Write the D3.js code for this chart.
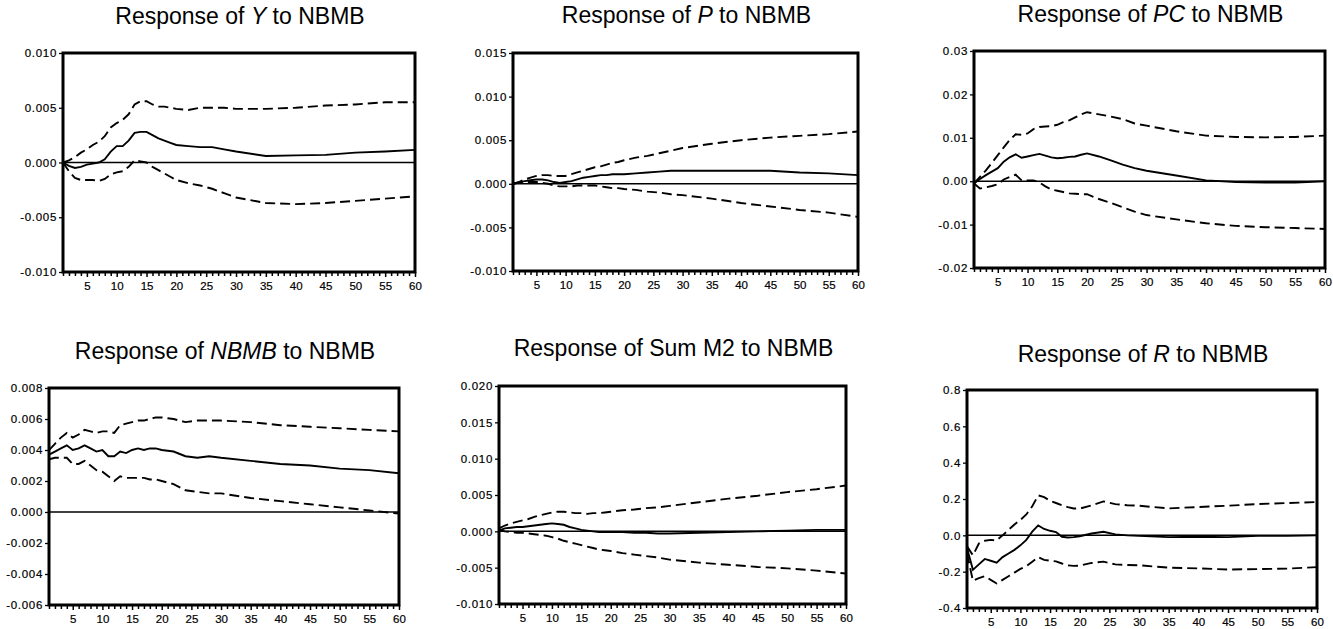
<!DOCTYPE html>
<html>
<head>
<meta charset="utf-8">
<title>Impulse responses to NBMB</title>
<script src="https://d3js.org/d3.v7.min.js"></script>
<style>
body { margin: 0; background: #fff; }
text { font-family: "Liberation Sans", Arial, Helvetica, sans-serif; fill: #000; }
</style>
</head>
<body>
<div id="chart"></div>
<script>

var periods = [1,2,3,4,5,6,7,8,9,10,11,12,13,14,15,16,17,18,19,20,22,24,26,28,30,35,40,45,50,55,60];

// Response of Y
var yResp = [0,-0.0003,-0.0005,-0.0004,-0.0002,-0.0001,0,0.0003,0.001,0.0015,0.0015,0.002,0.0027,0.0028,0.0028,0.0025,0.0022,0.002,0.0018,0.0016,0.0015,0.0014,0.0014,0.0012,0.001,0.0006,0.00065,0.0007,0.0009,0.001,0.00115];
var yUp   = [0,0.0002,0.0005,0.0009,0.0012,0.0016,0.0019,0.0024,0.0032,0.0036,0.0039,0.0044,0.0053,0.0056,0.0056,0.0053,0.0051,0.0051,0.005,0.0049,0.0048,0.005,0.005,0.005,0.0049,0.0049,0.005,0.0052,0.0053,0.0055,0.0055];
var yLow  = [0,-0.0008,-0.0014,-0.0016,-0.0016,-0.0016,-0.0017,-0.0015,-0.0011,-0.0009,-0.0008,-0.0004,0.0002,0.0001,0,-0.0004,-0.0007,-0.001,-0.0013,-0.0016,-0.0019,-0.0021,-0.0024,-0.0028,-0.0032,-0.0037,-0.0038,-0.0037,-0.0035,-0.0033,-0.0031];

// Response of P
var pResp = [0,0.0002,0.0003,0.0004,0.0005,0.0005,0.0004,0.0002,0.0001,0.0002,0.0003,0.0005,0.0007,0.0008,0.0009,0.001,0.001,0.0011,0.0011,0.0011,0.0012,0.0013,0.0014,0.0015,0.0015,0.0015,0.0015,0.0015,0.0013,0.0012,0.001];
var pUp   = [0,0.0002,0.0005,0.0007,0.0009,0.001,0.001,0.0009,0.0009,0.0009,0.0011,0.0013,0.0015,0.0017,0.0019,0.002,0.0022,0.0024,0.0025,0.0027,0.003,0.0032,0.0035,0.0038,0.0041,0.0046,0.005,0.0053,0.0055,0.0057,0.006];
var pLow  = [0,0.0001,0.0002,0.0002,0.0002,0.0001,0,-0.0002,-0.0003,-0.0003,-0.0003,-0.0002,-0.0002,-0.0002,-0.0002,-0.0003,-0.0004,-0.0005,-0.0005,-0.0006,-0.0007,-0.0009,-0.001,-0.0012,-0.0013,-0.0017,-0.0022,-0.0026,-0.003,-0.0033,-0.0038];

// Response of PC
var pcResp = [-0.0005,0.0005,0.0014,0.0022,0.003,0.0045,0.0055,0.0062,0.0054,0.0057,0.006,0.0063,0.0059,0.0055,0.0053,0.0054,0.0056,0.0057,0.0061,0.0064,0.0057,0.0048,0.0038,0.003,0.0024,0.0013,0.0002,-0.0002,-0.0003,-0.0003,0];
var pcUp   = [-0.0005,0.001,0.0025,0.0042,0.006,0.0078,0.0095,0.0108,0.0107,0.011,0.012,0.0125,0.0126,0.0127,0.013,0.0136,0.014,0.0147,0.0154,0.0159,0.0154,0.0149,0.0143,0.0133,0.0128,0.0115,0.0105,0.0102,0.0101,0.0102,0.0105];
var pcLow  = [-0.0005,-0.0017,-0.0014,-0.0011,-0.0007,0.0004,0.001,0.0015,0.0002,0.0002,0.0002,-0.0003,-0.0012,-0.0019,-0.0022,-0.0025,-0.0028,-0.0029,-0.003,-0.003,-0.0041,-0.005,-0.006,-0.007,-0.0078,-0.0088,-0.0097,-0.0103,-0.0106,-0.0108,-0.011];

// Response of NBMB
var nbResp = [0.0037,0.0039,0.0041,0.0043,0.004,0.0041,0.0043,0.0041,0.0039,0.004,0.0036,0.0036,0.0039,0.0038,0.004,0.0041,0.004,0.0041,0.0041,0.004,0.0039,0.0036,0.0035,0.0036,0.0035,0.0033,0.0031,0.003,0.0028,0.0027,0.0025];
var nbUp   = [0.004,0.0044,0.0048,0.0051,0.0048,0.005,0.0053,0.0052,0.0051,0.0052,0.0052,0.0051,0.0056,0.0057,0.0058,0.0059,0.0059,0.006,0.0061,0.0061,0.006,0.0058,0.0059,0.0059,0.0059,0.0058,0.0056,0.0055,0.0054,0.0053,0.0052];
var nbLow  = [0.0034,0.0035,0.0035,0.0035,0.0031,0.0031,0.0033,0.003,0.0027,0.0026,0.0023,0.002,0.0023,0.0022,0.0022,0.0022,0.0022,0.0021,0.0021,0.002,0.0018,0.0014,0.0013,0.0012,0.0012,0.0009,0.0007,0.0005,0.0003,0.0001,-0.0001];

// Response of Sum M2
var m2Resp = [0.0001,0.0004,0.0005,0.0006,0.0006,0.0007,0.0008,0.0009,0.001,0.0011,0.001,0.0009,0.0006,0.0004,0.0002,0.0001,0,-0.0001,-0.0001,-0.0001,-0.0001,-0.0002,-0.0002,-0.0003,-0.0003,-0.0002,-0.0001,0,0.0001,0.0002,0.0002];
var m2Up   = [0.0004,0.0008,0.0011,0.0013,0.0015,0.0017,0.002,0.0022,0.0024,0.0026,0.0027,0.0027,0.0026,0.0025,0.0025,0.0024,0.0025,0.0025,0.0026,0.0027,0.0029,0.003,0.0032,0.0033,0.0035,0.004,0.0045,0.0049,0.0054,0.0058,0.0063];
var m2Low  = [0.0002,0,-0.0001,-0.0002,-0.0002,-0.0003,-0.0004,-0.0005,-0.0006,-0.0008,-0.001,-0.0013,-0.0015,-0.0017,-0.0019,-0.0021,-0.0023,-0.0025,-0.0026,-0.0027,-0.003,-0.0032,-0.0034,-0.0036,-0.0039,-0.0043,-0.0046,-0.0049,-0.0051,-0.0054,-0.0058];

// Response of R
var rResp = [-0.07,-0.19,-0.16,-0.13,-0.14,-0.15,-0.12,-0.1,-0.08,-0.055,-0.025,0.02,0.055,0.035,0.025,0.018,-0.008,-0.012,-0.01,-0.005,0.01,0.02,0.005,0,-0.003,-0.01,-0.008,-0.01,-0.003,-0.003,0];
var rUp   = [-0.06,-0.11,-0.045,-0.03,-0.025,-0.028,0,0.03,0.06,0.085,0.115,0.16,0.22,0.21,0.19,0.178,0.165,0.155,0.148,0.147,0.165,0.187,0.172,0.166,0.163,0.148,0.156,0.163,0.172,0.178,0.183];
var rLow  = [-0.1,-0.25,-0.235,-0.225,-0.245,-0.265,-0.245,-0.225,-0.205,-0.185,-0.17,-0.145,-0.12,-0.135,-0.14,-0.143,-0.155,-0.165,-0.168,-0.167,-0.152,-0.145,-0.16,-0.163,-0.165,-0.178,-0.182,-0.188,-0.186,-0.183,-0.175];

// y tick labels of each panel
var yTicks3 = [-0.010,-0.005,0.000,0.005,0.010];
var pTicks  = [-0.010,-0.005,0.000,0.005,0.010,0.015];
var pcTicks = [-0.02,-0.01,0.00,0.01,0.02,0.03];
var nbTicks = [-0.006,-0.004,-0.002,0.000,0.002,0.004,0.006,0.008];
var m2Ticks = [-0.010,-0.005,0.000,0.005,0.010,0.015,0.020];
var rTicks  = [-0.4,-0.2,0.0,0.2,0.4,0.6,0.8];

var xLabels = [5,10,15,20,25,30,35,40,45,50,55,60];

var width = 1333, height = 629;

var svg = d3.select("#chart")
  .append("svg")
    .attr("width", width)
    .attr("height", height);

// minus sign as a plain hyphen, like the original
var loc = d3.formatLocale({decimal: ".", thousands: ",", grouping: [3], currency: ["", ""], minus: "-"});

var panels = [
  {pre: "Response of ", it: "Y", post: " to NBMB", resp: yResp, up: yUp, low: yLow, ticks: yTicks3, fmt: ".3f",
   x0: 63, x1: 415, y0: 53, y1: 272, ty: 24},
  {pre: "Response of ", it: "P", post: " to NBMB", resp: pResp, up: pUp, low: pLow, ticks: pTicks, fmt: ".3f",
   x0: 513, x1: 858, y0: 53, y1: 271, ty: 23},
  {pre: "Response of ", it: "PC", post: " to NBMB", resp: pcResp, up: pcUp, low: pcLow, ticks: pcTicks, fmt: ".2f",
   x0: 974, x1: 1325, y0: 51, y1: 268, ty: 22},
  {pre: "Response of ", it: "NBMB", post: " to NBMB", resp: nbResp, up: nbUp, low: nbLow, ticks: nbTicks, fmt: ".3f",
   x0: 49, x1: 399, y0: 388, y1: 605, ty: 359},
  {pre: "Response of Sum M2 to NBMB", it: "", post: "", resp: m2Resp, up: m2Up, low: m2Low, ticks: m2Ticks, fmt: ".3f",
   x0: 499, x1: 846, y0: 386, y1: 604, ty: 356},
  {pre: "Response of ", it: "R", post: " to NBMB", resp: rResp, up: rUp, low: rLow, ticks: rTicks, fmt: ".1f",
   x0: 967, x1: 1317, y0: 390, y1: 608, ty: 362}
];

panels.forEach(function(p, i) {
  var g = svg.append("g");

  var x = d3.scaleLinear().domain([1, 60]).range([p.x0, p.x1]);
  var y = d3.scaleLinear().domain(d3.extent(p.ticks)).range([p.y1, p.y0]);

  // title
  var t = g.append("text")
    .attr("x", (p.x0 + p.x1) / 2 + 1)
    .attr("y", p.ty)
    .attr("text-anchor", "middle")
    .style("font-size", "23px");
  t.append("tspan").text(p.pre);
  if (p.it) {
    t.append("tspan").style("font-style", "italic").text(p.it);
    t.append("tspan").text(p.post);
  }

  // x axis: a tick at every period, labels every 5
  var xAxis = d3.axisBottom(x)
    .tickValues(d3.range(1, 61))
    .tickSize(4)
    .tickPadding(4)
    .tickFormat(function(d) { return xLabels.indexOf(d) >= 0 ? d : ""; });
  var gx = g.append("g")
    .attr("transform", "translate(0," + p.y1 + ")")
    .call(xAxis);
  gx.select(".domain").remove();
  gx.selectAll(".tick line").attr("stroke", "#000").attr("stroke-width", 1.5)
    .attr("y2", function(d) { return d % 5 === 0 ? 5 : 4; });
  gx.selectAll(".tick text").style("font-size", "11.5px").attr("dy", "0.85em")
    .attr("stroke", "#000").attr("stroke-width", 0.2);

  // y axis
  var yAxis = d3.axisLeft(y)
    .tickValues(p.ticks)
    .tickSize(4)
    .tickPadding(2)
    .tickFormat(loc.format(p.fmt));
  var gy = g.append("g")
    .attr("transform", "translate(" + p.x0 + ",0)")
    .call(yAxis);
  gy.select(".domain").remove();
  gy.selectAll(".tick line").attr("stroke", "#000").attr("stroke-width", 1.3);
  gy.selectAll(".tick text").style("font-size", "11.5px").style("letter-spacing", "0.7px")
    .attr("stroke", "#000").attr("stroke-width", 0.2);

  // clip
  g.append("clipPath").attr("id", "clip" + i)
    .append("rect")
      .attr("x", p.x0).attr("y", p.y0)
      .attr("width", p.x1 - p.x0).attr("height", p.y1 - p.y0);

  var plot = g.append("g").attr("clip-path", "url(#clip" + i + ")");

  // zero line
  plot.append("line")
    .attr("x1", p.x0).attr("x2", p.x1)
    .attr("y1", y(0)).attr("y2", y(0))
    .attr("stroke", "#000")
    .attr("stroke-width", 1.5);

  var line = d3.line()
    .x(function(d) { return x(d[0]); })
    .y(function(d) { return y(d[1]); });

  function series(vals) {
    return periods.map(function(per, k) { return [per, vals[k]]; });
  }

  plot.append("path")
    .datum(series(p.up))
    .attr("d", line)
    .attr("fill", "none")
    .attr("stroke", "#000")
    .attr("stroke-width", 1.9)
    .attr("stroke-dasharray", "10,5");

  plot.append("path")
    .datum(series(p.low))
    .attr("d", line)
    .attr("fill", "none")
    .attr("stroke", "#000")
    .attr("stroke-width", 1.9)
    .attr("stroke-dasharray", "10,5");

  plot.append("path")
    .datum(series(p.resp))
    .attr("d", line)
    .attr("fill", "none")
    .attr("stroke", "#000")
    .attr("stroke-width", 1.9);

  // frame
  g.append("rect")
    .attr("x", p.x0).attr("y", p.y0)
    .attr("width", p.x1 - p.x0).attr("height", p.y1 - p.y0)
    .attr("fill", "none")
    .attr("stroke", "#000")
    .attr("stroke-width", 3);
});

</script>
</body>
</html>
